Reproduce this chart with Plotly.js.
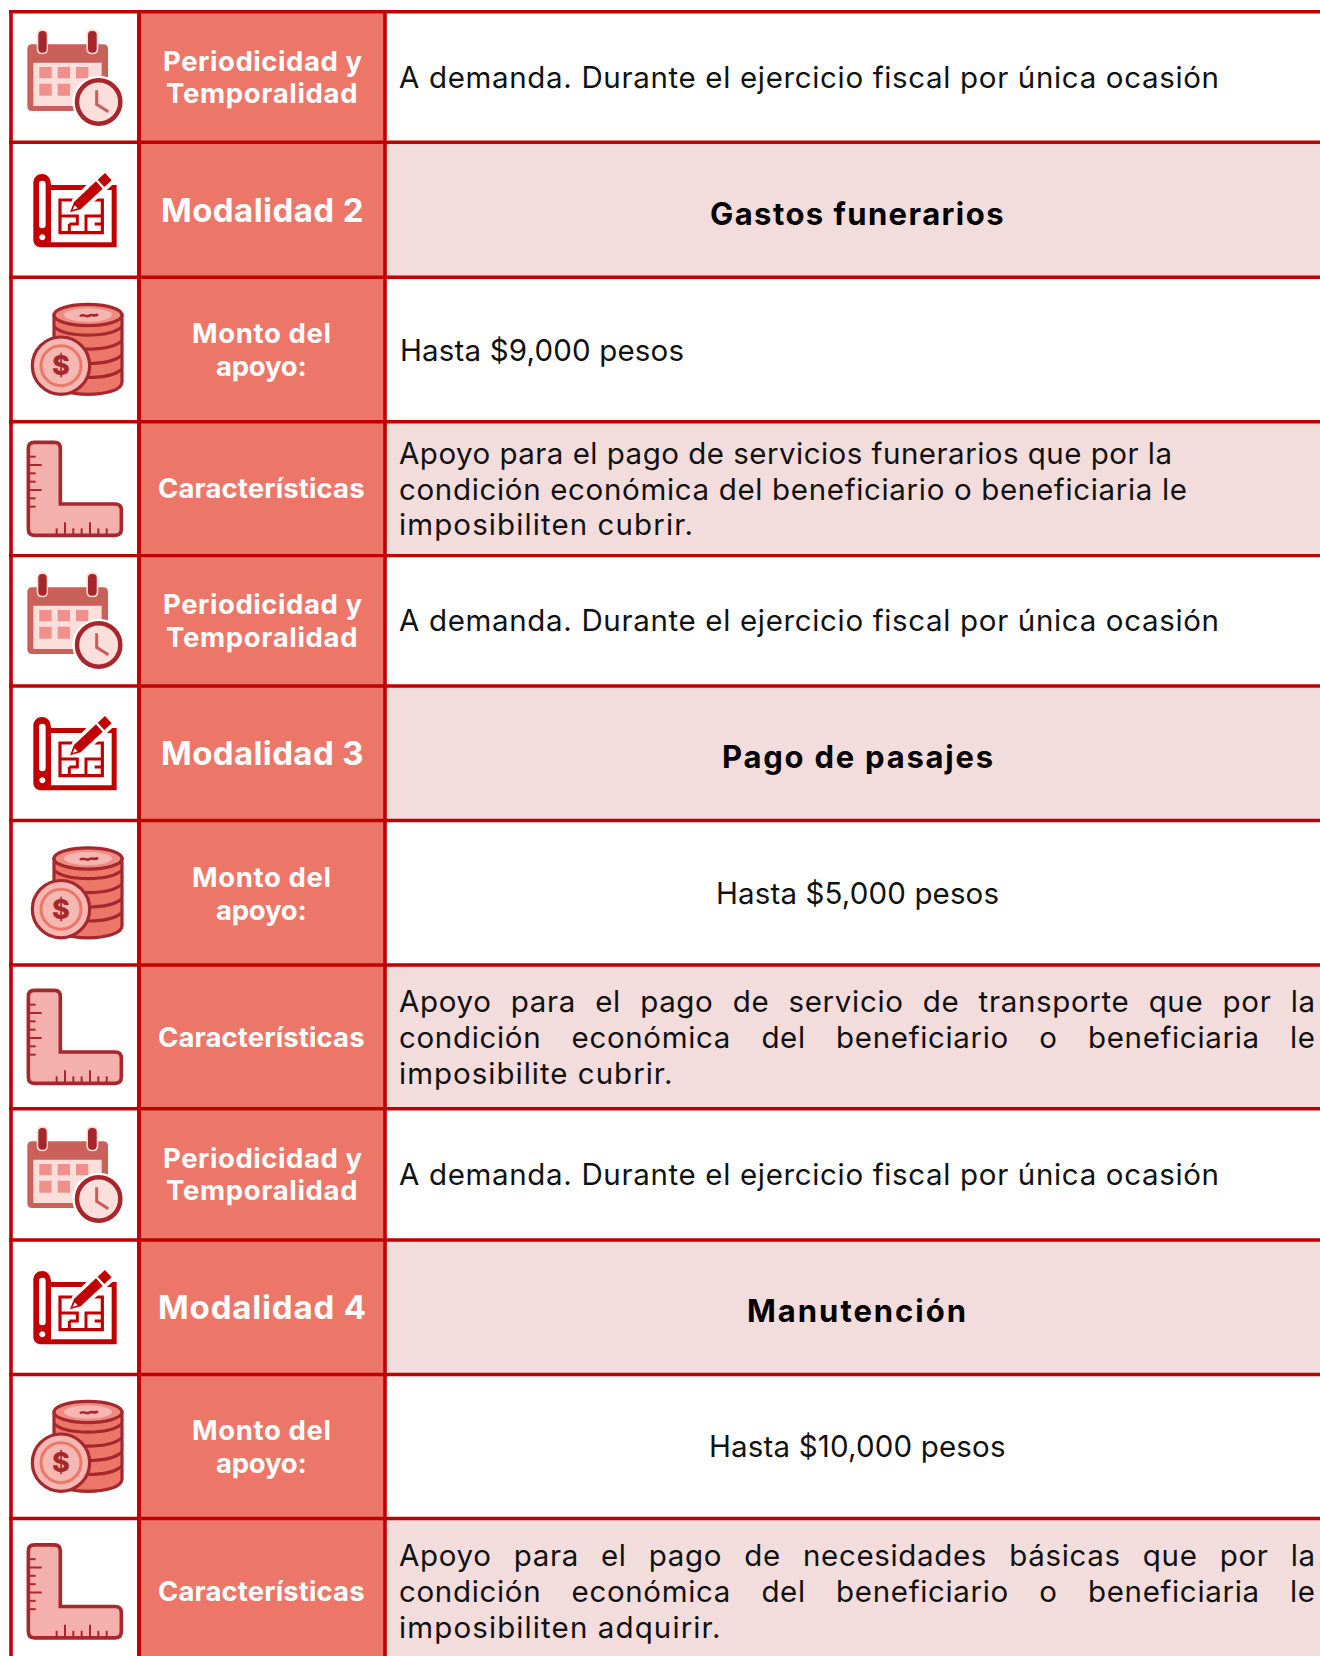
<!DOCTYPE html>
<html><head><meta charset="utf-8">
<script src="https://cdn.plot.ly/plotly-3.0.1.min.js"></script>
<style>html,body{margin:0;padding:0;background:#fff}</style></head>
<body><div id="chart" style="width:1320px;height:1656px"></div>
<script>
// ---- content ----
const rowLabels = [
 ["Periodicidad y","Temporalidad"],["Modalidad 2"],["Monto del","apoyo:"],["Características"],
 ["Periodicidad y","Temporalidad"],["Modalidad 3"],["Monto del","apoyo:"],["Características"],
 ["Periodicidad y","Temporalidad"],["Modalidad 4"],["Monto del","apoyo:"],["Características"]];
const rowContent = [
 ["A demanda. Durante el ejercicio fiscal por única ocasión"],
 ["Gastos funerarios"],
 ["Hasta $9,000 pesos"],
 ["Apoyo para el pago de servicios funerarios que por la","condición económica del beneficiario o beneficiaria le","imposibiliten cubrir."],
 ["A demanda. Durante el ejercicio fiscal por única ocasión"],
 ["Pago de pasajes"],
 ["Hasta $5,000 pesos"],
 ["Apoyo para el pago de servicio de transporte que por la","condición económica del beneficiario o beneficiaria le","imposibilite cubrir."],
 ["A demanda. Durante el ejercicio fiscal por única ocasión"],
 ["Manutención"],
 ["Hasta $10,000 pesos"],
 ["Apoyo para el pago de necesidades básicas que por la","condición económica del beneficiario o beneficiaria le","imposibiliten adquirir."]];
const rowIcons = ["calendar","plan","coins","ruler","calendar","plan","coins","ruler","calendar","plan","coins","ruler"];
const headingRows = [1,5,9];
const tintedRows = [1,3,5,7,9,11];

// ---- layout measurements (pixels) ----
const rowEdges = [11.8,142.3,277.3,421.8,555.6,686,820.5,965,1108.8,1240,1374.5,1518.5,1662];
const colEdges = [11,139,385,1320];
const labelBaselines = [[70.7,102.7],[221.7],[343.3,375.7],[497.7],[613.7,647.5],[765.5],[887.3,919.7],[1046.7],[1167.7,1199.7],[1318.7],[1440.3,1472.7],[1601.3]];
const labelSpans = {"Periodicidad y":[162.7,361.7],"Temporalidad":[165.7,357.3],"Modalidad 2":[160.7,363.3],"Modalidad 3":[160.7,363.3],"Modalidad 4":[157.5,365.5],"Monto del":[191.7,330.7],"apoyo:":[216,306.7],"Características":[157.7,364.3]};
const contentBaselines = [[88],[225],[360.7],[463.3,500,535],[631],[767.7],[904],[1011.7,1048,1084],[1184.5],[1321.7],[1457],[1565.7,1602,1637.7]];
const contentSpans = [[[399,1219]],[[710,1003.5]],[[399.5,683.5]],[[399,1172],[399,1187],[399,693]],[[399,1219]],[[722,993]],[[716,999]],[[399,1315],[399,1315],[399,672.6]],[[399,1219]],[[747,966]],[[709,1005.5]],[[399,1315],[399,1315],[399,720.5]]];
const justifiedLines = {"7":[0,1],"11":[0,1]};
const iconOffsets = {calendar:[0,543,1097],plan:[0,543,1097],coins:[0,543.5,1097],ruler:[0,548,1102.5]};

const RED="#C00000",CORAL="#EC7769",PINK="#F2DCDC",DARK="#A6282E",FONT="Inter";
const ctx=document.createElement('canvas').getContext('2d');
function measure(t,size,w){ctx.font=`${w} ${size}px ${FONT}`;return ctx.measureText(t).width;}
const BASELINE_K=0.364;
function line(t,x0,x1,base,size,w,color,just,ls0){
  const n=t.length, W=x1-x0, nat=measure(t,size,w);
  let ls=(W-nat)/(n-1), ws=0;
  if(just){ls=ls0;ws=(W-nat-ls0*(n-1))/(t.split(' ').length-1);}
  return {x:x0,y:base-BASELINE_K*size,xref:'x',yref:'y',xanchor:'left',yanchor:'middle',showarrow:false,align:'left',borderpad:0,borderwidth:0,
    text:`<span style="letter-spacing:${ls.toFixed(3)}px;word-spacing:${ws.toFixed(3)}px">${t}</span>`,
    font:{family:FONT,size:size,color:color,weight:w}};
}
const annotations=[];
const BODY=29.5;
const refLine=rowContent[0][0], refSpan=contentSpans[0][0];
const ls0=(refSpan[1]-refSpan[0]-measure(refLine,BODY,400))/(refLine.length-1);
rowLabels.forEach((ls,r)=>ls.forEach((t,i)=>{
  const s=labelSpans[t], size=t.startsWith("Modalidad")?33:27.5;
  annotations.push(line(t,s[0],s[1],labelBaselines[r][i],size,700,"#FFFFFF",false,0));
}));
rowContent.forEach((ls,r)=>ls.forEach((t,i)=>{
  const s=contentSpans[r][i], head=headingRows.includes(r), just=(justifiedLines[r]||[]).includes(i);
  annotations.push(line(t,s[0],s[1],contentBaselines[r][i],head?31:BODY,head?700:400,head?"#000000":"#111111",just,ls0));
}));

// ---- icon geometry helpers ----
function tr(d,ox,oy){ // path written in 3x-zoom units
  let k=0;return d.replace(/-?\d+(\.\d+)?/g,m=>{const v=+m/3+((k++%2===0)?ox:oy);return v.toFixed(2);});
}
function rr(x0,y0,x1,y1,r){return `M ${x0+r} ${y0} L ${x1-r} ${y0} Q ${x1} ${y0} ${x1} ${y0+r} L ${x1} ${y1-r} Q ${x1} ${y1} ${x1-r} ${y1} L ${x0+r} ${y1} Q ${x0} ${y1} ${x0} ${y1-r} L ${x0} ${y0+r} Q ${x0} ${y0} ${x0+r} ${y0} Z`;}
function el(cx,cy,a,b){const k=.5523,c=a*k,d=b*k;return `M ${cx-a} ${cy} C ${cx-a} ${cy-d} ${cx-c} ${cy-b} ${cx} ${cy-b} C ${cx+c} ${cy-b} ${cx+a} ${cy-d} ${cx+a} ${cy} C ${cx+a} ${cy+d} ${cx+c} ${cy+b} ${cx} ${cy+b} C ${cx-c} ${cy+b} ${cx-a} ${cy+d} ${cx-a} ${cy} Z`;}
const shapes=[];
function put(d,ox,oy,fill,stroke,sw){
  shapes.push({type:'path',xref:'x',yref:'y',layer:'above',path:tr(d,ox,oy),fillcolor:fill||'rgba(0,0,0,0)',line:{color:stroke||'rgba(0,0,0,0)',width:sw||0}});
}
const ICONS={
 calendar(dy){const o=[20,21+dy],B="#C9615A",L="#FCDEDB",S="#F0908A",K="#A6262C";
  put(rr(22,70,264,270,14),...o,B);
  [[50,84],[199,235]].forEach(a=>put(rr(a[0],25,a[1],100,17),...o,"#F6DAD6"));
  [[55,80],[204,230]].forEach(a=>put(rr(a[0],30,a[1],95,12),...o,K));
  put(rr(40,125,245,255,0),...o,L);
  [[58,138,95,172],[113,138,150,172],[168,138,205,172],[58,188,95,224],[113,188,150,224]].forEach(a=>put(rr(a[0],a[1],a[2],a[3],0),...o,S));
  put(el(236,243,79,79),...o,"#FFFFFF");
  put(el(236,243,65,65),...o,L,K,4.5);
  put("M 230 208 L 230 250 L 265 272",...o,null,"#C65F5A",3);
 },
 plan(dy){const o=[20,160+dy];
  put("M 40 70 C 40 52 52 42 67 42 C 82 42 93 54 93 75 L 290 75 L 290 262 L 65 262 C 50 262 40 254 40 238 Z",...o,RED);
  put(rr(93,90,275,247,0),...o,"#FFFFFF");
  put(rr(57,62,77,205,10),...o,"#FFFFFF");
  put(el(67,232,9,9),...o,"#FFFFFF");
  put("M 120 120 L 247 120 L 247 218 L 120 218 Z",...o,null,RED,3.2);
  put("M 120 168 L 172 168 L 172 192 L 148 192 M 247 168 L 198 168 L 198 218 M 148 192 L 148 218 M 224 192 L 247 192",...o,null,RED,3);
  put("M 150 157 L 160 120 L 250 30 L 285 62 L 190 150 Z",...o,"#FFFFFF","#FFFFFF",2.5);
  put("M 150 157 L 162 126 L 228 64 L 248 86 L 182 148 Z",...o,RED);
  put("M 233 59 L 255 39 L 275 61 L 253 81 Z",...o,RED);
  put("M 158 150 L 164 136 L 173 145 Z",...o,"#FFFFFF");
 },
 coins(dy){const o=[20,295+dy];
  put("M 102 60 L 102 262 C 102 310 306 310 306 262 L 306 60 Z",...o,CORAL,DARK,3.2);
  [95,137,180,222].forEach(y=>put(`M 102 ${y} C 140 ${y+34} 268 ${y+34} 306 ${y}`,...o,null,DARK,3.2));
  put(el(204,60,102,32),...o,"#EE8C82",DARK,3.2);
  put(el(204,60,72,20),...o,"#F5B5B0");
  put("M 180 64 C 190 54 198 68 208 62 C 216 56 222 66 234 58",...o,null,DARK,2.6);
  put(el(123,212,86,86),...o,"#F5B7B2",DARK,3.2);
  put(el(123,212,60,60),...o,null,CORAL,3);
  annotations.push({x:20+123/3,y:295+dy+212/3,xref:'x',yref:'y',xanchor:'center',yanchor:'middle',showarrow:false,borderpad:0,text:"$",font:{family:FONT,size:27,weight:800,color:DARK}});
 },
 ruler(dy){const o=[0,270+dy];
  put("M 85 535 Q 85 517 103 517 L 163 517 Q 181 517 181 535 L 181 702 L 345 702 Q 364 702 364 720 L 364 777 Q 364 796 345 796 L 103 796 Q 85 796 85 777 Z",...o,"#F4B0AC",DARK,3.6);
  [[560,107],[585,125],[610,107],[635,107],[660,125],[685,107],[710,107]].forEach(a=>put(`M 85 ${a[0]} L ${a[1]} ${a[0]}`,...o,null,DARK,2));
  [[170,775],[195,757],[220,775],[245,775],[270,757],[295,775],[320,775]].forEach(a=>put(`M ${a[0]} 796 L ${a[0]} ${a[1]}`,...o,null,DARK,2));
 }
};
const seen={};
rowIcons.forEach(n=>{const i=seen[n]=(seen[n]===undefined?0:seen[n]+1);ICONS[n](iconOffsets[n][i]);});

// ---- grid lines ----
rowEdges.slice(0,-1).forEach(y=>shapes.push({type:'line',xref:'x',yref:'y',layer:'above',x0:colEdges[0]-2,x1:1320,y0:y,y1:y,line:{color:RED,width:3.4}}));
colEdges.slice(0,3).forEach((x,i)=>shapes.push({type:'line',xref:'x',yref:'y',layer:'above',x0:x,x1:x,y0:10,y1:1656,line:{color:RED,width:i===1?4:3.6}}));

// ---- cell fills as bar traces ----
const mids=rowEdges.slice(0,-1).map((y,i)=>(y+rowEdges[i+1])/2);
const hs=rowEdges.slice(0,-1).map((y,i)=>rowEdges[i+1]-y);
const traces=[
 {type:'bar',orientation:'h',y:mids,x:mids.map(()=>colEdges[2]-colEdges[1]),base:mids.map(()=>colEdges[1]),width:hs,marker:{color:CORAL,line:{width:0}},hoverinfo:'skip',showlegend:false},
 {type:'bar',orientation:'h',y:tintedRows.map(i=>mids[i]),x:tintedRows.map(()=>colEdges[3]-colEdges[2]),base:tintedRows.map(()=>colEdges[2]),width:tintedRows.map(i=>hs[i]),marker:{color:PINK,line:{width:0}},hoverinfo:'skip',showlegend:false}
];
Plotly.newPlot('chart',traces,{
 width:1320,height:1656,margin:{l:0,r:0,t:0,b:0},paper_bgcolor:'#fff',plot_bgcolor:'#fff',barmode:'overlay',showlegend:false,
 xaxis:{range:[0,1320],visible:false,fixedrange:true},
 yaxis:{range:[1656,0],visible:false,fixedrange:true},
 shapes:shapes,annotations:annotations
},{displayModeBar:false,staticPlot:true});
</script></body></html>
